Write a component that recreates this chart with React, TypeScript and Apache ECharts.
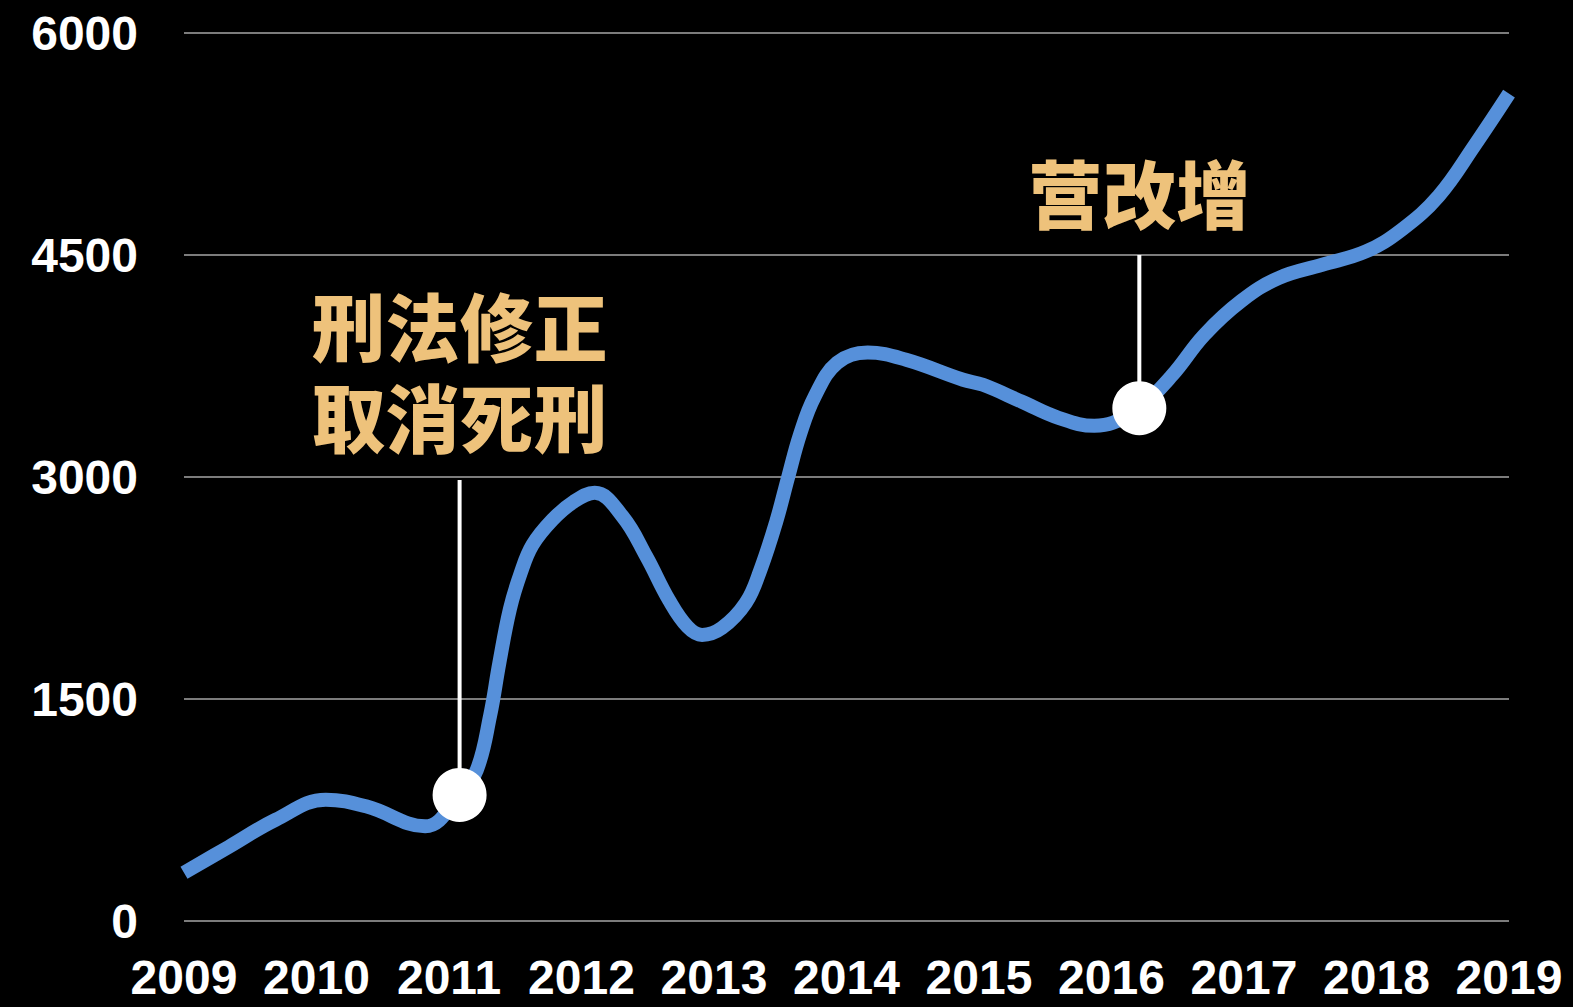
import React, { useEffect, useRef } from "react";
import * as echarts from "echarts";

// Curve points: [year position, value]
const curveYears = [
  2009.0, 2009.34, 2009.69, 2010.07, 2010.38, 2010.82, 2011.08, 2011.21, 2011.31, 2011.38,
  2011.46, 2011.54, 2011.63, 2011.78, 2011.94, 2012.1, 2012.31, 2012.49, 2012.66, 2012.8,
  2012.91, 2013.06, 2013.24, 2013.35, 2013.47, 2013.56, 2013.65, 2013.76, 2013.93, 2014.16,
  2014.45, 2014.88, 2015.03, 2015.32, 2015.6, 2015.87, 2016.01, 2016.21, 2016.46, 2016.7,
  2016.98, 2017.26, 2017.59, 2017.92, 2018.19, 2018.47, 2018.74, 2019.0,
];
const curveValues = [
  326, 502, 683, 820, 773, 640, 852, 1021, 1386, 1744,
  2109, 2348, 2541, 2710, 2832, 2893, 2733, 2462, 2169, 1988,
  1933, 1980, 2149, 2372, 2700, 3000, 3290, 3544, 3772, 3841,
  3792, 3657, 3623, 3510, 3400, 3346, 3366, 3465, 3690, 3960,
  4190, 4344, 4434, 4524, 4671, 4900, 5240, 5590,
];

// Annotations (dot position, top of the leader line)
const noteX = [2011.08, 2016.21];
const noteY = [852, 3465];
const noteTop = [2980, 4500];
// Annotation text lines: [x, y, text]
const noteLineX = [2011.08, 2011.08, 2016.21];
const noteLineY = [4035, 3423, 4937];
const noteLineText = ["刑法修正", "取消死刑", "营改增"];

// Axes
const xMin = 2009;
const xMax = 2019;
const yTicks = [0, 1500, 3000, 4500, 6000];

export default function App() {
  const ref = useRef<HTMLDivElement>(null);

  useEffect(() => {
    if (!ref.current) return;
    const chart = echarts.init(ref.current, undefined, { renderer: "svg" });

    const latin = "'Liberation Sans', Arial, Helvetica, sans-serif";
    const cjk = "'Noto Sans CJK SC', 'Noto Sans', sans-serif";

    const leaderSeries = noteX.map((x, i) => ({
      type: "line",
      data: [
        [x, noteY[i]],
        [x, noteTop[i]],
      ],
      symbol: "none",
      lineStyle: { color: "#ffffff", width: 4, opacity: 1 },
      z: 3,
      silent: true,
    }));

    chart.setOption({
      animation: false,
      backgroundColor: "#000000",
      grid: { left: 184, right: 64, top: 33, bottom: 86, containLabel: false },
      xAxis: {
        type: "value",
        min: xMin,
        max: xMax,
        interval: 1,
        axisLine: { show: false },
        axisTick: { show: false },
        splitLine: { show: false },
        axisLabel: {
          color: "#ffffff",
          fontSize: 48,
          fontWeight: "bold",
          fontFamily: latin,
          margin: 32,
          formatter: (v: number) => String(Math.round(v)),
        },
      },
      yAxis: {
        type: "value",
        min: yTicks[0],
        max: yTicks[yTicks.length - 1],
        interval: 1500,
        axisLine: { show: false },
        axisTick: { show: false },
        splitLine: { show: true, lineStyle: { color: "#7c7c7c", width: 2 } },
        axisLabel: {
          color: "#ffffff",
          fontSize: 48,
          fontWeight: "bold",
          fontFamily: latin,
          margin: 46,
          formatter: (v: number) => String(v),
        },
      },
      series: [
        {
          type: "line",
          data: curveYears.map((x, i) => [x, curveValues[i]]),
          smooth: 0.4,
          symbol: "none",
          lineStyle: { color: "#5690DA", width: 14, cap: "butt", opacity: 1 },
          z: 2,
          silent: true,
        },
        ...leaderSeries,
        {
          type: "scatter",
          data: noteX.map((x, i) => [x, noteY[i]]),
          symbol: "circle",
          symbolSize: 54,
          itemStyle: { color: "#ffffff", opacity: 1 },
          z: 5,
          silent: true,
        },
        {
          type: "scatter",
          data: noteLineX.map((x, i) => ({
            value: [x, noteLineY[i]],
            label: { formatter: noteLineText[i] },
          })),
          symbolSize: 1,
          itemStyle: { color: "#000000", opacity: 0 },
          label: {
            show: true,
            position: "inside",
            color: "#EEC27B",
            opacity: 1,
            fontSize: 74,
            lineHeight: 78,
            fontWeight: 900,
            fontFamily: cjk,
            align: "center",
            verticalAlign: "middle",
          },
          z: 6,
          silent: true,
        },
      ],
    });

    return () => chart.dispose();
  }, []);

  return (
    <div
      ref={ref}
      style={{ position: "fixed", left: 0, top: 0, width: 1573, height: 1007, background: "#000" }}
    />
  );
}
